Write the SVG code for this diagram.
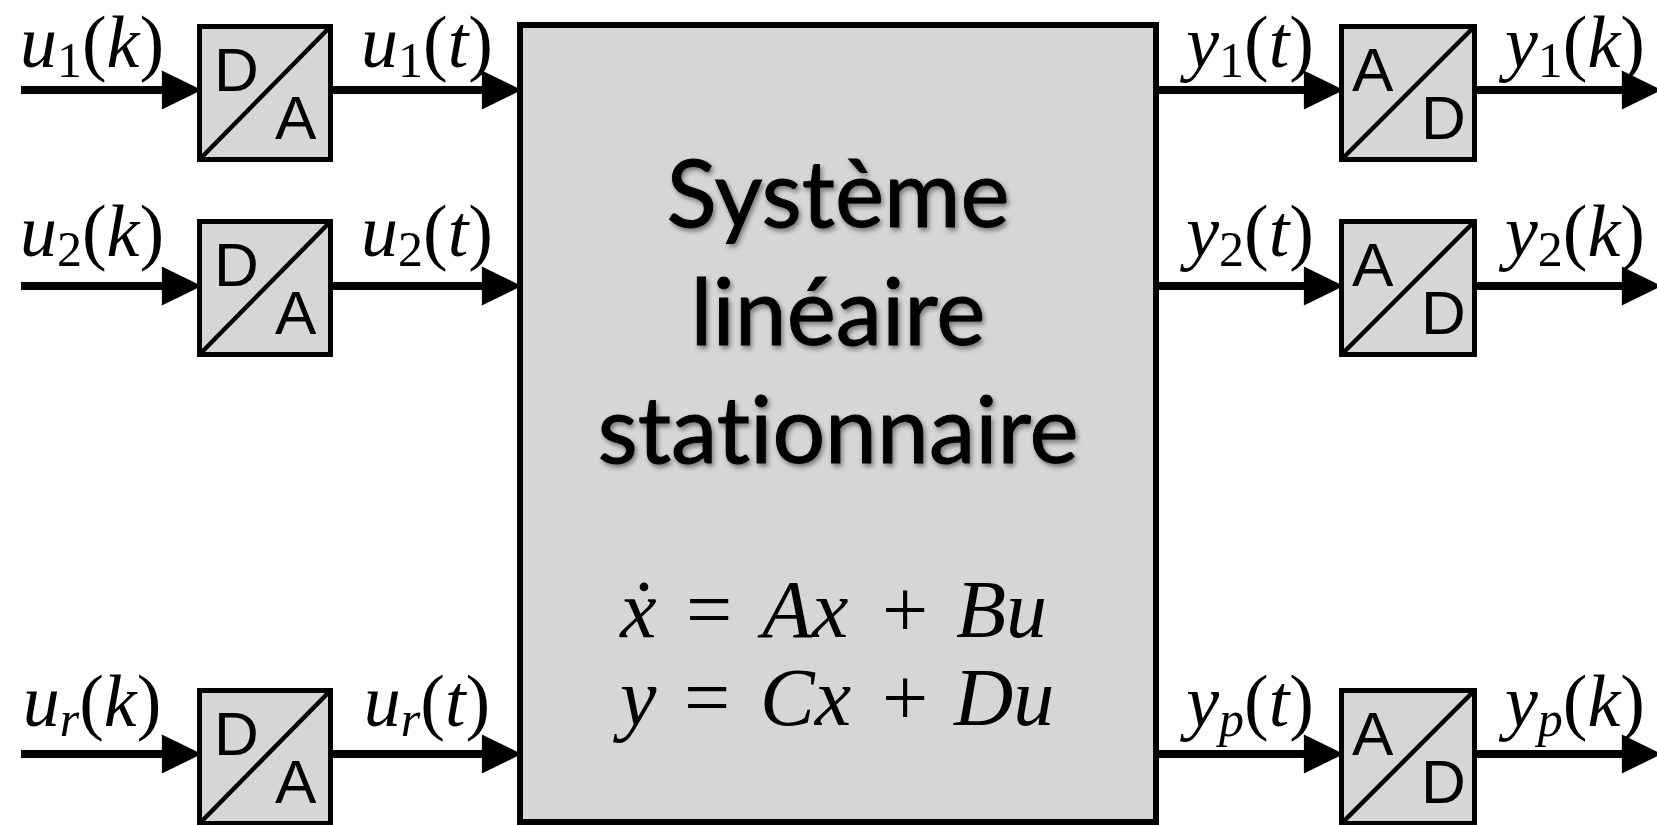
<svg xmlns="http://www.w3.org/2000/svg" width="1657" height="825" viewBox="0 0 1657 825">
  <style>
    .box { fill: #d6d6d6; stroke: #000; stroke-width: 5; }
    .diag { stroke: #000; stroke-width: 4.5; }
    .conv { font-family: "Liberation Sans", Arial, sans-serif; font-size: 62px; fill: #000; }
    .wire { stroke: #000; stroke-width: 8; fill: none; marker-end: url(#ah); }
    .lbl { font-family: "Liberation Serif", "Times New Roman", serif; font-size: 74px; fill: #000; text-anchor: middle; }
    .it { font-style: italic; }
    .sub { font-size: 50px; }
    .title { font-family: Lato, "Open Sans", sans-serif; font-size: 93px; fill: #000; stroke: #000; stroke-width: 0.9; text-anchor: middle; filter: url(#sh); font-variant-ligatures: none; font-feature-settings: "liga" 0; }
    .eq { font-family: "Liberation Serif", "Times New Roman", serif; font-size: 82px; fill: #000; }
  </style>
  <defs>
    <marker id="ah" markerUnits="userSpaceOnUse" markerWidth="40" markerHeight="40" viewBox="0 -17 35 34" refX="1" refY="0" orient="auto" overflow="visible">
      <path d="M0,-17 L35,0 L0,17 Z" fill="#000"/>
    </marker>
    <filter id="sh" x="-10%" y="-20%" width="120%" height="150%">
      <feDropShadow dx="2" dy="3" stdDeviation="2.5" flood-color="#000" flood-opacity="0.45"/>
    </filter>
  </defs>
  <rect width="1657" height="825" fill="#fff"/>

  <g id="connectors">
    <line class="wire" x1="21" y1="90" x2="163" y2="90"/>
    <line class="wire" x1="333" y1="90" x2="483" y2="90"/>
    <line class="wire" x1="1159" y1="90" x2="1305" y2="90"/>
    <line class="wire" x1="1477" y1="90" x2="1623" y2="90"/>

    <line class="wire" x1="21" y1="286" x2="163" y2="286"/>
    <line class="wire" x1="333" y1="286" x2="483" y2="286"/>
    <line class="wire" x1="1159" y1="286" x2="1305" y2="286"/>
    <line class="wire" x1="1477" y1="286" x2="1623" y2="286"/>

    <line class="wire" x1="21" y1="754" x2="163" y2="754"/>
    <line class="wire" x1="333" y1="754" x2="483" y2="754"/>
    <line class="wire" x1="1159" y1="754" x2="1305" y2="754"/>
    <line class="wire" x1="1477" y1="754" x2="1623" y2="754"/>
  </g>

  <g id="labels">
    <text class="lbl" x="92" y="67"><tspan class="it">u</tspan><tspan class="sub" dy="10">1</tspan><tspan dy="-10">(</tspan><tspan class="it">k</tspan>)</text>
    <text class="lbl" x="427" y="67"><tspan class="it">u</tspan><tspan class="sub" dy="10">1</tspan><tspan dy="-10">(</tspan><tspan class="it">t</tspan>)</text>
    <text class="lbl" x="1250" y="67"><tspan class="it">y</tspan><tspan class="sub" dy="10">1</tspan><tspan dy="-10">(</tspan><tspan class="it">t</tspan>)</text>
    <text class="lbl" x="1575" y="67"><tspan class="it">y</tspan><tspan class="sub" dy="10">1</tspan><tspan dy="-10">(</tspan><tspan class="it">k</tspan>)</text>

    <text class="lbl" x="92" y="256"><tspan class="it">u</tspan><tspan class="sub" dy="10">2</tspan><tspan dy="-10">(</tspan><tspan class="it">k</tspan>)</text>
    <text class="lbl" x="427" y="256"><tspan class="it">u</tspan><tspan class="sub" dy="10">2</tspan><tspan dy="-10">(</tspan><tspan class="it">t</tspan>)</text>
    <text class="lbl" x="1250" y="256"><tspan class="it">y</tspan><tspan class="sub" dy="10">2</tspan><tspan dy="-10">(</tspan><tspan class="it">t</tspan>)</text>
    <text class="lbl" x="1575" y="256"><tspan class="it">y</tspan><tspan class="sub" dy="10">2</tspan><tspan dy="-10">(</tspan><tspan class="it">k</tspan>)</text>

    <text class="lbl" x="92" y="726"><tspan class="it">u</tspan><tspan class="sub it" dy="10">r</tspan><tspan dy="-10">(</tspan><tspan class="it">k</tspan>)</text>
    <text class="lbl" x="427" y="726"><tspan class="it">u</tspan><tspan class="sub it" dy="10">r</tspan><tspan dy="-10">(</tspan><tspan class="it">t</tspan>)</text>
    <text class="lbl" x="1250" y="726"><tspan class="it">y</tspan><tspan class="sub it" dy="10">p</tspan><tspan dy="-10">(</tspan><tspan class="it">t</tspan>)</text>
    <text class="lbl" x="1575" y="726"><tspan class="it">y</tspan><tspan class="sub it" dy="10">p</tspan><tspan dy="-10">(</tspan><tspan class="it">k</tspan>)</text>
  </g>

  <g id="system">
    <rect x="520" y="25" width="636" height="797" fill="#d6d6d6" stroke="#000" stroke-width="6"/>
    <text class="title" x="838" y="227">Système</text>
    <text class="title" x="838" y="345">linéaire</text>
    <text class="title" x="838" y="463">stationnaire</text>
    <text class="eq" y="637"><tspan class="it" x="620">ẋ</tspan><tspan x="686">=</tspan><tspan class="it" x="762">Ax</tspan><tspan x="882">+</tspan><tspan class="it" x="956">Bu</tspan></text>
    <text class="eq" y="725"><tspan class="it" x="620">y</tspan><tspan x="684">=</tspan><tspan class="it" x="760">Cx</tspan><tspan x="882">+</tspan><tspan class="it" x="954">Du</tspan></text>
  </g>

  <g id="dac1" transform="translate(197,24)">
    <rect class="box" x="2.5" y="2.5" width="131" height="133"/>
    <line class="diag" x1="2.5" y1="135.5" x2="133.5" y2="2.5"/>
    <text class="conv" x="17" y="67">D</text>
    <text class="conv" x="78" y="115">A</text>
  </g>
  <g id="dac2" transform="translate(197,219)">
    <rect class="box" x="2.5" y="2.5" width="131" height="133"/>
    <line class="diag" x1="2.5" y1="135.5" x2="133.5" y2="2.5"/>
    <text class="conv" x="17" y="67">D</text>
    <text class="conv" x="78" y="115">A</text>
  </g>
  <g id="dacr" transform="translate(197,688)">
    <rect class="box" x="2.5" y="2.5" width="131" height="133"/>
    <line class="diag" x1="2.5" y1="135.5" x2="133.5" y2="2.5"/>
    <text class="conv" x="17" y="67">D</text>
    <text class="conv" x="78" y="115">A</text>
  </g>
  <g id="adc1" transform="translate(1339,24)">
    <rect class="box" x="2.5" y="2.5" width="133" height="133"/>
    <line class="diag" x1="2.5" y1="135.5" x2="135.5" y2="2.5"/>
    <text class="conv" x="13" y="67">A</text>
    <text class="conv" x="82" y="115">D</text>
  </g>
  <g id="adc2" transform="translate(1339,219)">
    <rect class="box" x="2.5" y="2.5" width="133" height="133"/>
    <line class="diag" x1="2.5" y1="135.5" x2="135.5" y2="2.5"/>
    <text class="conv" x="13" y="67">A</text>
    <text class="conv" x="82" y="115">D</text>
  </g>
  <g id="adcp" transform="translate(1339,688)">
    <rect class="box" x="2.5" y="2.5" width="133" height="133"/>
    <line class="diag" x1="2.5" y1="135.5" x2="135.5" y2="2.5"/>
    <text class="conv" x="13" y="67">A</text>
    <text class="conv" x="82" y="115">D</text>
  </g>
</svg>
